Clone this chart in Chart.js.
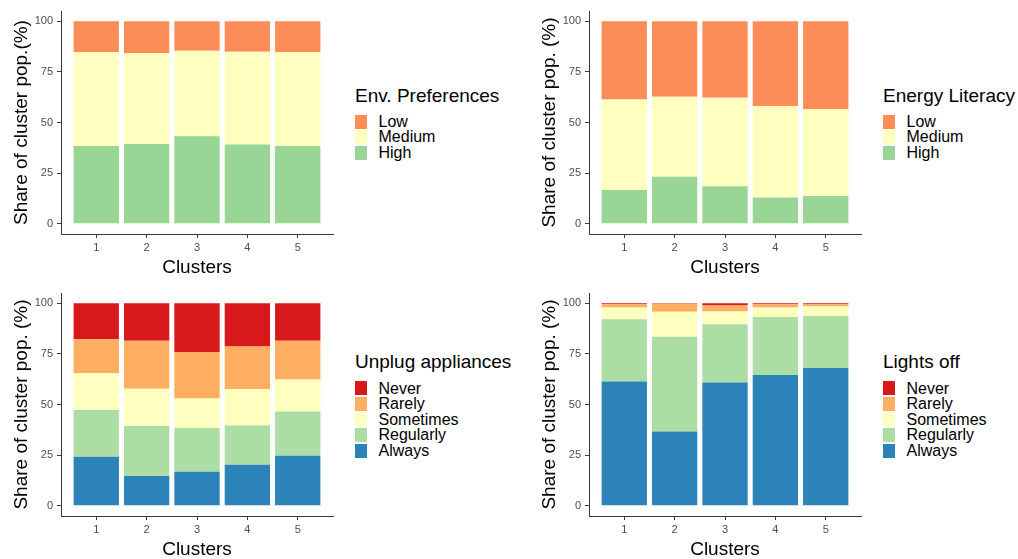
<!DOCTYPE html>
<html>
<head>
<meta charset="utf-8">
<script src="https://cdn.jsdelivr.net/npm/chart.js@4.4.1/dist/chart.umd.min.js"></script>
<style>
  html, body { margin: 0; padding: 0; background: #ffffff; }
  body { width: 1018px; height: 559px; overflow: hidden; position: relative;
         font-family: "Liberation Sans", Arial, sans-serif; }
  .panel { position: absolute; width: 345px; height: 290px; }
  .legend { position: absolute; color: #000; }
  .legend .ttl { position: absolute; left: 0; white-space: nowrap; font-size: 19px; line-height: 19px; }
  .legend .key { position: absolute; left: 0; width: 12px; height: 14px; }
  .legend .lbl { position: absolute; left: 23.5px; white-space: nowrap; font-size: 16px; line-height: 16px; }
</style>
</head>
<body>
<canvas id="envPref" class="panel" width="345" height="290" style="left:0px;top:0px"></canvas>
<canvas id="energyLit" class="panel" width="345" height="290" style="left:528px;top:0px"></canvas>
<canvas id="unplug" class="panel" width="345" height="290" style="left:0px;top:282px"></canvas>
<canvas id="lights" class="panel" width="345" height="290" style="left:528px;top:282px"></canvas>

<div id="legEnvPref" class="legend" style="left:355px;top:0px"></div>
<div id="legEnergyLit" class="legend" style="left:883px;top:0px"></div>
<div id="legUnplug" class="legend" style="left:355px;top:266.7px"></div>
<div id="legLights" class="legend" style="left:883px;top:266.7px"></div>

<script>
// Cluster categories and axis ticks
const clusters = ['1', '2', '3', '4', '5'];
const yTicks = [0, 25, 50, 75, 100];

// Environmental preferences (share of cluster population, %)
const envPrefHigh   = [38.4, 39.4, 43.2, 39.2, 38.4];
const envPrefMedium = [46.2, 44.8, 42.2, 45.7, 46.2];
const envPrefLow    = [15.4, 15.8, 14.6, 15.1, 15.4];

// Energy literacy (share of cluster population, %)
const energyLitHigh   = [16.7, 23.3, 18.6, 13.0, 13.8];
const energyLitMedium = [44.7, 39.4, 43.6, 45.1, 42.9];
const energyLitLow    = [38.6, 37.3, 37.8, 41.9, 43.3];

// Unplugging appliances (share of cluster population, %)
const unplugAlways    = [24.2, 14.7, 16.8, 20.3, 24.7];
const unplugRegularly = [23.1, 24.7, 21.6, 19.4, 21.9];
const unplugSometimes = [18.1, 18.4, 14.6, 18.0, 15.7];
const unplugRarely    = [16.8, 23.7, 22.9, 20.9, 19.1];
const unplugNever     = [17.8, 18.5, 24.1, 21.4, 18.6];

// Switching lights off (share of cluster population, %)
const lightsAlways    = [61.4, 36.7, 60.8, 64.6, 68.0];
const lightsRegularly = [30.6, 46.7, 28.8, 28.6, 25.7];
const lightsSometimes = [5.9, 12.4, 6.3, 4.7, 4.7];
const lightsRarely    = [1.5, 3.9, 2.9, 1.5, 1.0];
const lightsNever     = [0.6, 0.3, 1.2, 0.6, 0.6];

// Level names (top-down legend order) and Spectral palette
const levels3 = ['Low', 'Medium', 'High'];
const colors3 = ['#fc8d59', '#ffffbf', '#99d594'];
const levels5 = ['Never', 'Rarely', 'Sometimes', 'Regularly', 'Always'];
const colors5 = ['#d7191c', '#fdae61', '#ffffbf', '#abdda4', '#2b83ba'];

const FONT = '"Liberation Sans", Arial, sans-serif';
const AXIS_COLOR = '#3a3a3a';

function series(values) {
  return values.map((v, i) => ({ x: i + 1, y: v }));
}

function makePanel(id, yTitle, stackBottomUp, names, colors) {
  // names/colors are top-down; datasets stack from the bottom
  const datasets = stackBottomUp.map((vals, k) => {
    const idx = names.length - 1 - k;
    return {
      label: names[idx],
      data: series(vals),
      backgroundColor: colors[idx],
      borderWidth: 0,
      barPercentage: 0.9,
      categoryPercentage: 1.0
    };
  });
  new Chart(document.getElementById(id), {
    type: 'bar',
    data: { datasets },
    options: {
      responsive: false,
      animation: false,
      layout: { padding: { left: 0, top: 11, right: 12, bottom: 0 } },
      plugins: { legend: { display: false }, tooltip: { enabled: false } },
      scales: {
        x: {
          type: 'linear',
          stacked: true,
          offset: false,
          min: 0.3,
          max: 5.7,
          afterBuildTicks: (s) => { s.ticks = clusters.map((c, i) => ({ value: i + 1 })); },
          afterFit: (s) => { s.height = 56; },
          grid: { display: true, offset: false, drawOnChartArea: false, drawTicks: true, tickLength: 4,
                  color: AXIS_COLOR, lineWidth: 1 },
          border: { display: true, color: AXIS_COLOR, width: 1 },
          ticks: {
            autoSkip: false, maxRotation: 0, padding: 3, color: '#4d4d4d',
            font: { family: FONT, size: 11 },
            callback: (v) => clusters[Math.round(v) - 1]
          },
          title: {
            display: true, text: 'Clusters', color: '#000',
            font: { family: FONT, size: 19, lineHeight: 1.2 },
            padding: { top: 0, bottom: 10.5 }
          }
        },
        y: {
          stacked: true,
          min: -5,
          max: 105,
          afterBuildTicks: (s) => { s.ticks = yTicks.map(v => ({ value: v })); },
          afterFit: (s) => { s.width = 61; },
          grid: { display: true, drawOnChartArea: false, drawTicks: true, tickLength: 4,
                  color: AXIS_COLOR, lineWidth: 1 },
          border: { display: true, color: AXIS_COLOR, width: 1 },
          ticks: {
            padding: 4, color: '#4d4d4d',
            font: { family: FONT, size: 11 },
            callback: (v) => String(v)
          },
          title: {
            display: true, text: yTitle, color: '#000',
            font: { family: FONT, size: 19, lineHeight: 1.2 },
            padding: { top: 10, bottom: 0 }
          }
        }
      }
    }
  });
}

function makeLegend(id, title, names, colors) {
  const box = document.getElementById(id);
  const t = document.createElement('div');
  t.className = 'ttl';
  t.textContent = title;
  t.style.top = '85.7px';
  box.appendChild(t);
  names.forEach((n, i) => {
    const cy = 121.7 + i * 15.55;
    const k = document.createElement('div');
    k.className = 'key';
    k.style.background = colors[i];
    k.style.top = (cy - 7) + 'px';
    box.appendChild(k);
    const l = document.createElement('div');
    l.className = 'lbl';
    l.textContent = n;
    l.style.top = (cy - 7.8) + 'px';
    box.appendChild(l);
  });
}

makePanel('envPref', 'Share of cluster pop.(%)',
  [envPrefHigh, envPrefMedium, envPrefLow], levels3, colors3);
makePanel('energyLit', 'Share of cluster pop. (%)',
  [energyLitHigh, energyLitMedium, energyLitLow], levels3, colors3);
makePanel('unplug', 'Share of cluster pop. (%)',
  [unplugAlways, unplugRegularly, unplugSometimes, unplugRarely, unplugNever], levels5, colors5);
makePanel('lights', 'Share of cluster pop. (%)',
  [lightsAlways, lightsRegularly, lightsSometimes, lightsRarely, lightsNever], levels5, colors5);

makeLegend('legEnvPref', 'Env. Preferences', levels3, colors3);
makeLegend('legEnergyLit', 'Energy Literacy', levels3, colors3);
makeLegend('legUnplug', 'Unplug appliances', levels5, colors5);
makeLegend('legLights', 'Lights off', levels5, colors5);
</script>
</body>
</html>
